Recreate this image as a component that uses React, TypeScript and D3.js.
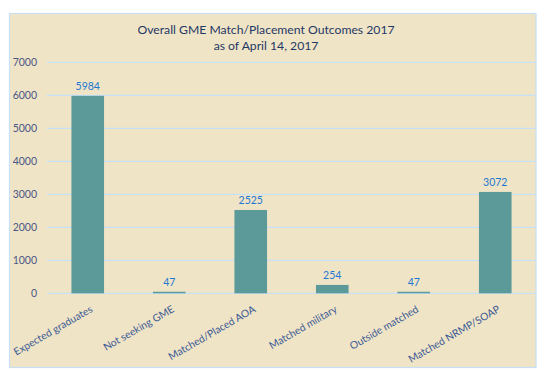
import * as d3 from "d3";

const categories = [
  "Expected graduates",
  "Not seeking GME",
  "Matched/Placed AOA",
  "Matched military",
  "Outside matched",
  "Matched NRMP/SOAP",
];
const values = [5984, 47, 2525, 254, 47, 3072];
const yTicks = [0, 1000, 2000, 3000, 4000, 5000, 6000, 7000];
const titleLines = ["Overall GME Match/Placement Outcomes 2017", "as of April 14, 2017"];

const FONT = "Lato, 'Open Sans', sans-serif";

export default function App() {
  const width = 537;
  const height = 387;
  const box = { x: 9.5, y: 13.5, w: 526.5, h: 354 };
  const plot = { left: 47, right: 536, top: 62.3, bottom: 293.3 };

  const x = d3
    .scaleBand<string>()
    .domain(categories)
    .range([plot.left, plot.right])
    .paddingInner(0.6)
    .paddingOuter(0.3);

  const y = d3.scaleLinear().domain([0, 7000]).range([plot.bottom, plot.top]);

  return (
    <svg
      width={width}
      height={height}
      style={{ position: "absolute", left: 0, top: 0 }}
      fontFamily={FONT}
    >
      <rect x={0} y={0} width={width} height={height} fill="#ffffff" />
      <rect
        x={box.x}
        y={box.y}
        width={box.w}
        height={box.h}
        fill="#f0e4c7"
        stroke="#c6e0f5"
        strokeWidth={1.2}
      />

      {titleLines.map((t, i) => (
        <text
          key={t}
          x={266}
          y={33.5 + i * 16}
          textAnchor="middle"
          fill="#1f3864"
          fontSize={12.2}
        >
          {t}
        </text>
      ))}

      {/* gridlines + y labels */}
      {yTicks.map((t) => (
        <g key={t}>
          <line
            x1={plot.left}
            x2={box.x + box.w - 1}
            y1={y(t)}
            y2={y(t)}
            stroke="#c6e0f5"
            strokeWidth={1.2}
          />
          <text
            x={37}
            y={y(t) + 4}
            textAnchor="end"
            fill="#4a5785"
            fontSize={10.5}
          >
            {t}
          </text>
        </g>
      ))}

      {/* bars */}
      {categories.map((c, i) => (
        <g key={c}>
          <rect
            x={x(c)!}
            y={y(values[i])}
            width={x.bandwidth()}
            height={plot.bottom - y(values[i])}
            fill="#5b9a98"
          />
          <text
            x={x(c)! + x.bandwidth() / 2}
            y={y(values[i]) - 6}
            textAnchor="middle"
            fill="#1f78d1"
            fontSize={10.5}
          >
            {values[i]}
          </text>
        </g>
      ))}

      {/* rotated category labels */}
      {categories.map((c) => {
        const cx = x(c)! + x.bandwidth() / 2 + 2;
        const cy = 305;
        return (
          <text
            key={c}
            transform={`translate(${cx},${cy}) rotate(-30)`}
            textAnchor="end"
            dy="0.7em"
            fill="#3a5a94"
            fontSize={10.3}
          >
            {c}
          </text>
        );
      })}
    </svg>
  );
}
